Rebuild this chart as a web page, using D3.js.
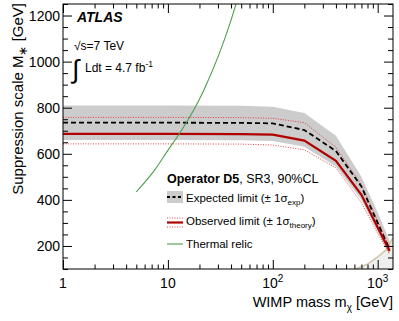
<!DOCTYPE html>
<html>
<head>
<meta charset="utf-8">
<script src="https://cdn.jsdelivr.net/npm/d3@7"></script>
<style>
  body { margin: 0; background: #fff; }
  svg { font-family: "Liberation Sans", Arial, Helvetica, sans-serif; }
  .axis path { display: none; }
  .axis line { stroke: #000; }
</style>
</head>
<body>
<div id="chart"></div>
<script>
// limit curves, GeV
var mass = [1, 10, 50, 100, 200, 400, 700, 1000, 1300];
var observed = [686, 686, 685, 683, 657, 569, 422, 280, 178];
var expected = [735, 735, 734, 732, 703, 612, 458, 300, 185];
var expUp = [810, 810, 808, 804, 777, 678, 500, 345, 222];
var expDown = [660, 660, 659, 656, 630, 545, 400, 262, 162];
var theoryUp = [758, 758, 757, 754, 735, 628, 465, 308, 194];
var theoryDown = [643, 643, 642, 638, 617, 539, 388, 255, 165];

// thermal relic
var relicMass = [5, 7.5, 10, 13, 22, 40, 46];
var relicM = [435, 530, 615, 690, 876, 1180, 1270];

// validity boundary (shaded below)
var validMass = [615, 800, 1000, 1236, 1400];
var validM = [100, 121, 153, 188, 237];

var yTicks = [200, 400, 600, 800, 1000, 1200];
var xLabels = [1, 10, 100, 1000];

var W = 399, H = 321;
var margin = {left: 63, right: 6, top: 4, bottom: 52};
var w = W - margin.left - margin.right, h = H - margin.top - margin.bottom;

var svg = d3.select("#chart").append("svg").attr("width", W).attr("height", H);
var g = svg.append("g").attr("transform", "translate(" + margin.left + "," + margin.top + ")");

var x = d3.scaleLog().domain([1, 1400]).range([0, w]);
var y = d3.scaleLinear().domain([100, 1250]).range([h, 0]);

g.append("clipPath").attr("id", "clip").append("rect").attr("width", w).attr("height", h);
var plot = g.append("g").attr("clip-path", "url(#clip)");

var zip = function(a, b) { return a.map(function(v, i) { return [v, b[i]]; }); };

// shaded region
plot.append("path")
  .datum(zip(validMass, validM))
  .attr("fill", "#efefef")
  .attr("d", d3.area().x(function(d) { return x(d[0]); }).y0(h).y1(function(d) { return y(d[1]); }));

// expected band
plot.append("path")
  .datum(mass.map(function(m, i) { return [m, expDown[i], expUp[i]]; }))
  .attr("fill", "#cccccc")
  .attr("d", d3.area().x(function(d) { return x(d[0]); })
    .y0(function(d) { return y(d[1]); }).y1(function(d) { return y(d[2]); }));

var line = d3.line().x(function(d) { return x(d[0]); }).y(function(d) { return y(d[1]); });

plot.append("path").datum(zip(validMass, validM))
  .attr("fill", "none").attr("stroke", "#cfc5a5").attr("stroke-width", 1.5).attr("d", line);

[theoryUp, theoryDown].forEach(function(s) {
  plot.append("path").datum(zip(mass, s))
    .attr("fill", "none").attr("stroke", "#e03030").attr("stroke-width", 0.9)
    .attr("stroke-dasharray", "1,1.5").attr("d", line);
});

plot.append("path").datum(zip(mass, expected))
  .attr("fill", "none").attr("stroke", "#000").attr("stroke-width", 1.8)
  .attr("stroke-dasharray", "5,3").attr("d", line);

plot.append("path").datum(zip(mass, observed))
  .attr("fill", "none").attr("stroke", "#b00000").attr("stroke-width", 2.2).attr("d", line);

plot.append("path").datum(zip(relicMass, relicM))
  .attr("fill", "none").attr("stroke", "#4f9f4f").attr("stroke-width", 1.1)
  .attr("d", line.curve(d3.curveMonotoneX));
line.curve(d3.curveLinear);

// axes with inward ticks
var minorX = [];
[1, 10, 100, 1000].forEach(function(d) {
  for (var k = 1; k < 10; k++) if (d * k <= 1400) minorX.push(d * k);
});
var minorY = d3.range(100, 1251, 50);

function axisSet(gen, vals, size, tr) {
  g.append("g").attr("class", "axis").attr("transform", tr || null)
    .call(gen.tickValues(vals).tickSize(size).tickFormat(""));
}
axisSet(d3.axisBottom(x), minorX.filter(function(d) { return xLabels.indexOf(d) < 0; }), -4.5, "translate(0," + h + ")");
axisSet(d3.axisBottom(x), xLabels, -9, "translate(0," + h + ")");
axisSet(d3.axisTop(x), minorX.filter(function(d) { return xLabels.indexOf(d) < 0; }), -4.5);
axisSet(d3.axisTop(x), xLabels, -9);
axisSet(d3.axisLeft(y), minorY.filter(function(d) { return yTicks.indexOf(d) < 0; }), -5);
axisSet(d3.axisLeft(y), yTicks, -9);
axisSet(d3.axisRight(y), minorY.filter(function(d) { return yTicks.indexOf(d) < 0; }), -5, "translate(" + w + ",0)");
axisSet(d3.axisRight(y), yTicks, -9, "translate(" + w + ",0)");

g.append("rect").attr("width", w).attr("height", h)
  .attr("fill", "none").attr("stroke", "#000").attr("stroke-width", 1);

// tick labels
g.selectAll(".ylab").data(yTicks).enter().append("text")
  .attr("x", -3).attr("y", function(d) { return y(d) + 5; })
  .attr("text-anchor", "end").attr("font-size", 14).text(function(d) { return d; });

xLabels.forEach(function(d) {
  var t = g.append("text").attr("x", x(d)).attr("y", h + 19)
    .attr("text-anchor", "middle").attr("font-size", 14);
  if (d < 100) t.text(d);
  else {
    t.append("tspan").text("10");
    t.append("tspan").attr("dy", -6).attr("font-size", 10).text(d === 100 ? "2" : "3");
  }
});

// axis titles
var xt = svg.append("text").attr("x", 393).attr("y", 307).attr("text-anchor", "end").attr("font-size", 14.5);
xt.append("tspan").text("WIMP mass m");
xt.append("tspan").attr("dy", 4).attr("font-size", 10).text("χ");
xt.append("tspan").attr("dy", -4).text(" [GeV]");

var yt = svg.append("text").attr("transform", "translate(23,3) rotate(-90)")
  .attr("text-anchor", "end").attr("font-size", 15);
yt.append("tspan").text("Suppression scale M");
yt.append("tspan").attr("dy", 4).attr("font-size", 12).text("∗");
yt.append("tspan").attr("dy", -4).text(" [GeV]");

// labels in the frame
svg.append("text").attr("x", 77).attr("y", 22).attr("font-size", 14)
  .attr("font-weight", "bold").attr("font-style", "italic").text("ATLAS");
svg.append("text").attr("x", 74).attr("y", 50).attr("font-size", 12).text("√s=7 TeV");
svg.append("text").attr("x", 72).attr("y", 78).attr("font-size", 26).text("∫");
var lum = svg.append("text").attr("x", 85).attr("y", 72).attr("font-size", 12);
lum.append("tspan").text("Ldt = 4.7 fb");
lum.append("tspan").attr("dy", -5).attr("font-size", 8.5).text("-1");

// legend
var lg = svg.append("g");
var head = lg.append("text").attr("x", 167).attr("y", 183).attr("font-size", 12.5);
head.append("tspan").attr("font-weight", "bold").text("Operator D5");
head.append("tspan").text(", SR3, 90%CL");

lg.append("rect").attr("x", 167).attr("y", 191).attr("width", 16).attr("height", 12).attr("fill", "#cccccc");
lg.append("line").attr("x1", 167).attr("x2", 183).attr("y1", 197).attr("y2", 197)
  .attr("stroke", "#000").attr("stroke-width", 1.8).attr("stroke-dasharray", "3,2.5");
[218, 227].forEach(function(yy) {
  lg.append("line").attr("x1", 167).attr("x2", 183).attr("y1", yy).attr("y2", yy)
    .attr("stroke", "#e03030").attr("stroke-width", 0.9).attr("stroke-dasharray", "1,1.5");
});
lg.append("line").attr("x1", 167).attr("x2", 183).attr("y1", 222.5).attr("y2", 222.5)
  .attr("stroke", "#b00000").attr("stroke-width", 2.2);
lg.append("line").attr("x1", 167).attr("x2", 183).attr("y1", 244).attr("y2", 244)
  .attr("stroke", "#4f9f4f").attr("stroke-width", 1.1);

function entry(yy, main, sub) {
  var t = lg.append("text").attr("x", 186).attr("y", yy).attr("font-size", 11.5);
  t.append("tspan").text(main);
  if (sub) {
    t.append("tspan").attr("dy", 3).attr("font-size", 8).text(sub);
    t.append("tspan").attr("dy", -3).text(")");
  }
}
entry(202, "Expected limit (± 1σ", "exp");
entry(225, "Observed limit (± 1σ", "theory");
entry(248, "Thermal relic");
</script>
</body>
</html>
